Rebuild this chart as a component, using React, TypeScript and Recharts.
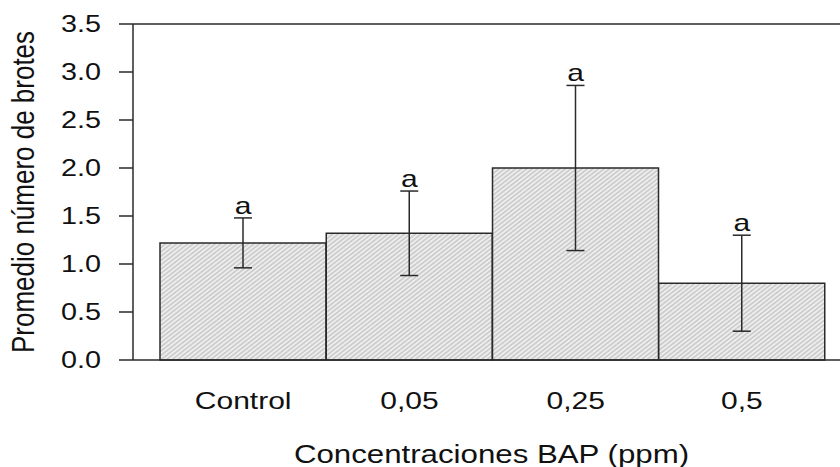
import React from 'react';
import {
  ComposedChart, Bar, Line, XAxis, YAxis, ErrorBar, LabelList, ReferenceLine,
} from 'recharts';

const categories = ['Control', '0,05', '0,25', '0,5'];
const means = [1.22, 1.32, 2.0, 0.8];
const errors = [0.26, 0.44, 0.86, 0.5];
const letters = ['a', 'a', 'a', 'a'];
const yTicks = [0, 0.5, 1.0, 1.5, 2.0, 2.5, 3.0, 3.5];

const data = categories.map((c, i) => ({
  name: c,
  mean: means[i],
  err: errors[i],
  upper: means[i] + errors[i],
  letter: letters[i],
}));

const FONT = 'Liberation Sans, Arial, sans-serif';
const INK = '#2a2a2a';
const SX = 1.25;

const StretchText = ({ x, y, sx = SX, anchor = 'middle', size = 24, baseline, children }: any) => (
  <text transform={`translate(${x},${y}) scale(${sx},1)`} x={0} y={0}
    textAnchor={anchor} dominantBaseline={baseline} fontFamily={FONT} fontSize={size} fill="#111">
    {children}
  </text>
);

const XTick = (props: any) => {
  const { x, y, payload } = props;
  return <StretchText x={x} y={y + 17} size={24}>{payload.value}</StretchText>;
};

const YTick = (props: any) => {
  const { x, y, payload } = props;
  return (
    <StretchText x={x} y={y} anchor="end" baseline="central" size={23}>
      {Number(payload.value).toFixed(1)}
    </StretchText>
  );
};

const YTitle = (props: any) => {
  const vb = props.viewBox;
  const x = vb.x + 23;
  const y = vb.y + vb.height / 2;
  return (
    <text transform={`translate(${x},${y}) scale(1.2,1) rotate(-90)`} x={0} y={0}
      textAnchor="middle" dominantBaseline="central" fontFamily={FONT} fontSize={26} fill="#111">
      Promedio número de brotes
    </text>
  );
};

const XTitle = (props: any) => {
  const vb = props.viewBox;
  const x = vb.x + vb.width / 2 + 5;
  return <StretchText x={x} y={463} size={25}>Concentraciones BAP (ppm)</StretchText>;
};

const Letter = (props: any) => {
  const { x, y, value } = props;
  return <StretchText x={x} y={y - 4} size={24}>{value}</StretchText>;
};

export default function App() {
  return (
    <div style={{ position: 'absolute', left: 0, top: 0, background: '#fff' }}>
      <ComposedChart width={840} height={467} data={data}
        margin={{ top: 24, right: 0, bottom: 0, left: 0 }}
        barCategoryGap={0} barGap={0}>
        <defs>
          <pattern id="hatch" patternUnits="userSpaceOnUse" width={10} height={3.4}
            patternTransform="rotate(-38)">
            <rect x={0} y={0} width={10} height={3.4} fill="#eeeeee" />
            <line x1={0} y1={1.7} x2={10} y2={1.7} stroke="#b4b4b4" strokeWidth={1} />
          </pattern>
        </defs>
        <XAxis dataKey="name" height={107} padding={{ left: 27, right: 15 }}
          axisLine={{ stroke: INK, strokeWidth: 1.5 }} tickLine={false} tickSize={0}
          tickMargin={32}
          tick={<XTick />}
          label={<XTitle />} />
        <YAxis width={133} domain={[0, 3.5]} ticks={yTicks} type="number"
          axisLine={{ stroke: INK, strokeWidth: 1.5 }}
          tickLine={{ stroke: INK, strokeWidth: 1.5 }} tickSize={14} tickMargin={18}
          tick={<YTick />}
          label={<YTitle />} />
        <ReferenceLine y={3.5} stroke={INK} strokeWidth={1.5} />
        <Bar dataKey="mean" fill="url(#hatch)" stroke={INK} strokeWidth={1.5}
          isAnimationActive={false}>
          <ErrorBar dataKey="err" direction="y" width={9} stroke={INK} strokeWidth={1.5} />
        </Bar>
        <Line dataKey="upper" stroke="none" dot={false} activeDot={false}
          isAnimationActive={false}>
          <LabelList dataKey="letter" content={<Letter />} />
        </Line>
      </ComposedChart>
    </div>
  );
}
